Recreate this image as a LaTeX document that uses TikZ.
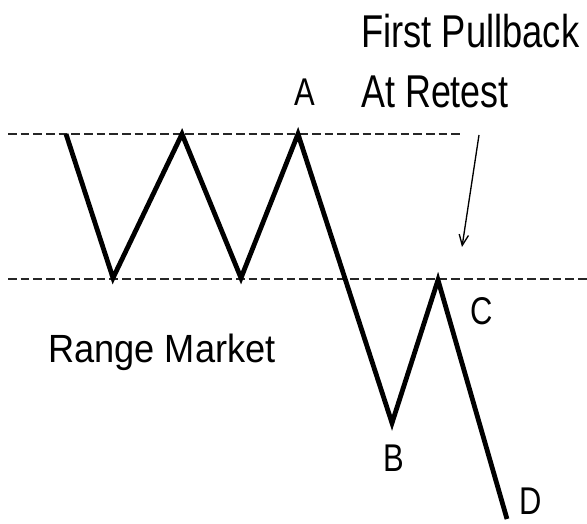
\documentclass[tikz,border=0pt]{standalone}
\usepackage{fontspec}
\setmainfont{Liberation Sans}
\usetikzlibrary{arrows.meta}
\begin{document}
\begin{tikzpicture}[x=0.75pt,y=-0.75pt,
  zig/.style={line width=3.6pt,line join=miter,black},
  guide/.style={line width=2pt,dash pattern=on 6.5pt off 3pt,black!85},
  lbl/.style={inner sep=0pt,anchor=base,font=\fontsize{29}{29}\selectfont},
  big/.style={inner sep=0pt,anchor=base west,font=\fontsize{34.5}{34.5}\selectfont},
  pointer/.style={line width=1pt,-{Straight Barb[length=8pt,width=7pt]}}]
\useasboundingbox (0,0) rectangle (587,524);
\fill[white] (0,0) rectangle (587,524);
% guide lines
\coordinate (t1) at (8,134); \coordinate (t2) at (463,134);
\coordinate (b1) at (8,279); \coordinate (b2) at (587,279);
\draw[guide] (t1) -- (t2);
\draw[guide] (b1) -- (b2);
% price path
\coordinate (p0) at (66,134);
\coordinate (p1) at (113,278);
\coordinate (p2) at (182,134);
\coordinate (p3) at (241,278);
\coordinate (pA) at (298,134);
\coordinate (pB) at (392,423);
\coordinate (pC) at (438,280);
\coordinate (pD) at (507,519);
\draw[zig] (p0) -- (p1) -- (p2) -- (p3) -- (pA) -- (pB) -- (pC) -- (pD);
% arrow
\coordinate (a1) at (479,135); \coordinate (a2) at (462,247);
\draw[pointer] (a1) -- (a2);
% labels
\node[lbl] (lA) at (305,106) {\scalebox{0.8}[1]{A}};
\node[lbl] (lB) at (394,472) {\scalebox{0.8}[1]{B}};
\node[lbl] (lC) at (482,325) {\scalebox{0.8}[1]{C}};
\node[lbl] (lD) at (531,515) {\scalebox{0.8}[1]{D}};
\node[big] (fp) at (361,48) {\scalebox{0.79}[1]{First Pullback}};
\node[big] (ar) at (361,108) {\scalebox{0.78}[1]{At Retest}};
\node[inner sep=0pt,anchor=base west,font=\fontsize{29.5}{29.5}\selectfont] (rm) at (48,363) {\scalebox{0.92}[1]{Range Market}};
\end{tikzpicture}
\end{document}
